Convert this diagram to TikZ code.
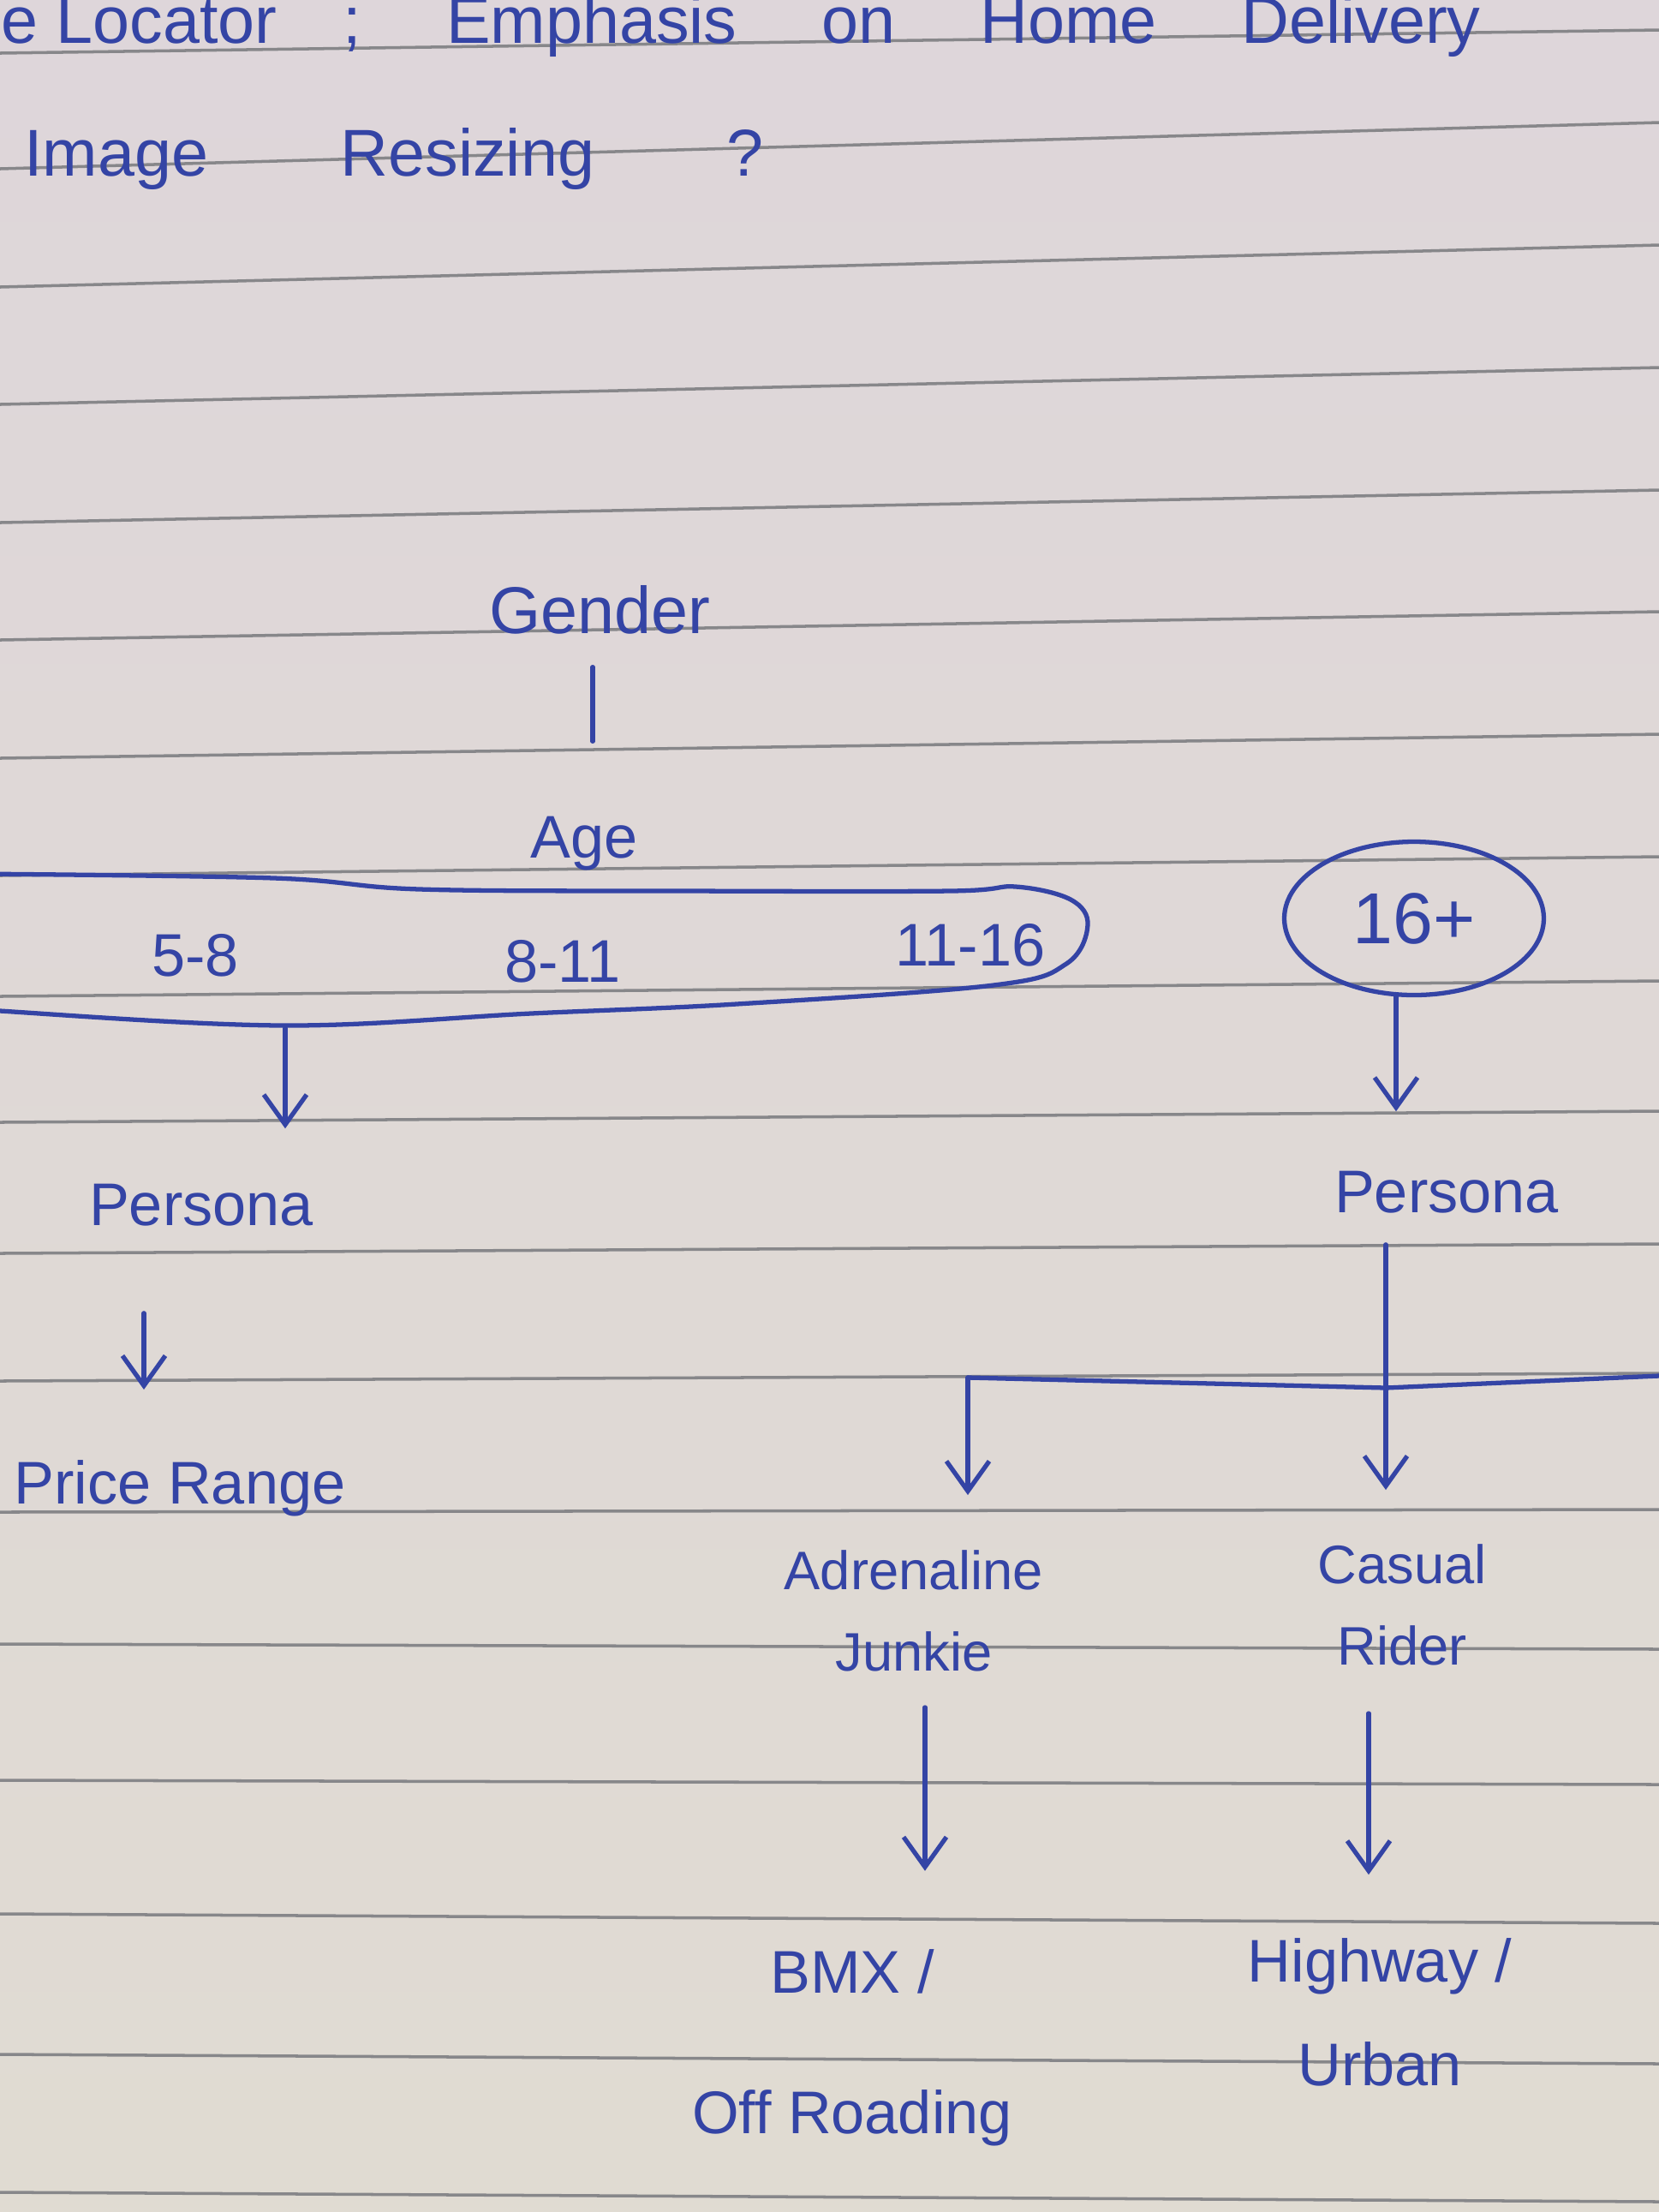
\documentclass[tikz,border=0pt]{standalone}
\usepackage{fontspec}
\setmainfont{Liberation Sans}
\usetikzlibrary{arrows.meta,shapes.geometric}
\definecolor{ink}{RGB}{52,68,165}
\definecolor{papertop}{RGB}{222,214,218}
\definecolor{paperbot}{RGB}{224,219,210}
\definecolor{rule}{RGB}{135,135,138}

\begin{document}
\begin{tikzpicture}[
  txt/.style={text=ink,font=\fontsize{20}{26}\selectfont,inner sep=3pt,align=center},
  big/.style={txt,font=\fontsize{22}{26}\selectfont},
  two/.style={txt,font=\fontsize{18}{27}\selectfont},
  ln/.style={draw=ink,line width=1.5pt,line cap=round},
  a/.style={ln,-{Straight Barb[length=3.5mm,width=5mm,line width=1.5pt]}}
]
\useasboundingbox (0,0) rectangle (19.37,-25.82);
\begin{scope}
\clip (0,0) rectangle (19.37,-25.82);

% paper and ruled lines
\shade[top color=papertop,bottom color=paperbot] (0,0) rectangle (19.37,-25.82);
\foreach \l/\r in {0.62/0.35,1.97/1.43,3.35/2.86,4.72/4.29,6.10/5.72,7.47/7.14,8.85/8.57,
  10.22/10.00,11.63/11.45,13.10/12.97,14.63/14.52,16.12/16.03,17.65/17.62,19.19/19.25,
  20.78/20.83,22.34/22.45,23.98/24.09,25.59/25.70}
  \draw[rule,line width=1pt] (0,-\l) -- (19.37,-\r);

% notes at the top
\node[big,anchor=base west] (note) at (-0.1,-0.5) {e Locator\quad;\quad\ Emphasis\quad\ on\quad\ Home\quad\ Delivery};
\node[big] (resize) at (4.6,-1.85) {Image\qquad Resizing\qquad ?};

% segmentation
\node[big] (gender) at (7.0,-7.12) {Gender};
\node[txt] (age) at (6.82,-9.85) {Age};

\node[txt] (a1) at (2.28,-11.15) {5-8};
\node[txt] (a2) at (6.57,-11.22) {8-11};
\node[txt] (a3) at (11.33,-11.03) {11-16};
\draw[ln] plot[smooth,tension=0.6] coordinates {(-0.3,-10.2) (3.2,-10.25) (4.9,-10.38) (8,-10.4)
  (11.1,-10.4) (11.86,-10.35) (12.5,-10.5) (12.7,-10.8) (12.45,-11.25) (11.6,-11.5)
  (8.6,-11.72) (6.2,-11.83) (3.3,-11.97) (0,-11.8) (-0.3,-11.75)};
\node[txt,draw=ink,line width=1.5pt,ellipse,minimum width=3.03cm,minimum height=1.79cm,
  font=\fontsize{24}{28}\selectfont] (over) at (16.51,-10.72) {16+};

\node[txt] (pl) at (2.35,-14.07) {Persona};
\node[txt] (pr) at (16.89,-13.92) {Persona};
\node[txt] (price) at (2.1,-17.37) {Price Range};

\node[two] (adr) at (10.67,-18.8) {Adrenaline\\Junkie};
\node[two] (cas) at (16.37,-18.73) {Casual\\Rider};
\node[txt] (bmx) at (9.95,-23.9) {BMX /\\[0.73cm]Off Roading};
\node[txt] (hw) at (16.11,-23.49) {Highway /\\[0.3cm]Urban};

% connectors
\coordinate (gx) at (6.92,0);
\coordinate (agesb) at (3.33,-12.0);
\coordinate (overb) at (16.3,-11.62);
\coordinate (px) at (1.68,0);
\coordinate (bl) at (11.3,-16.08);
\coordinate (bj) at (16.18,-16.2);
\coordinate (br) at (19.6,-16.05);
\coordinate (cL) at (10.8,0);
\coordinate (cR) at (15.98,0);

\draw[ln,shorten <=0.27cm,shorten >=0.77cm] (gender.south -| gx) -- (age.north -| gx);
\draw[a,shorten >=0.54cm] (agesb) -- (agesb |- pl.north);
\draw[a,shorten >=0.59cm] (overb) -- (overb |- pr.north);
\draw[a,shorten <=0.9cm,shorten >=0.71cm] (pl.south -| px) -- (price.north -| px);

\draw[ln,shorten <=0.25cm] (pr.south -| bj) -- (bj);
\draw[ln] (bl) -- (bj) -- (br);
\draw[a,shorten >=0.53cm] (bl) -- (bl |- adr.north);
\draw[a,shorten >=0.52cm] (bj) -- (bj |- cas.north);

\draw[a,shorten <=0.31cm,shorten >=0.8cm] (adr.south -| cL) -- (bmx.north -| cL);
\draw[a,shorten <=0.45cm,shorten >=0.63cm] (cas.south -| cR) -- (hw.north -| cR);
\end{scope}
\end{tikzpicture}
\end{document}
